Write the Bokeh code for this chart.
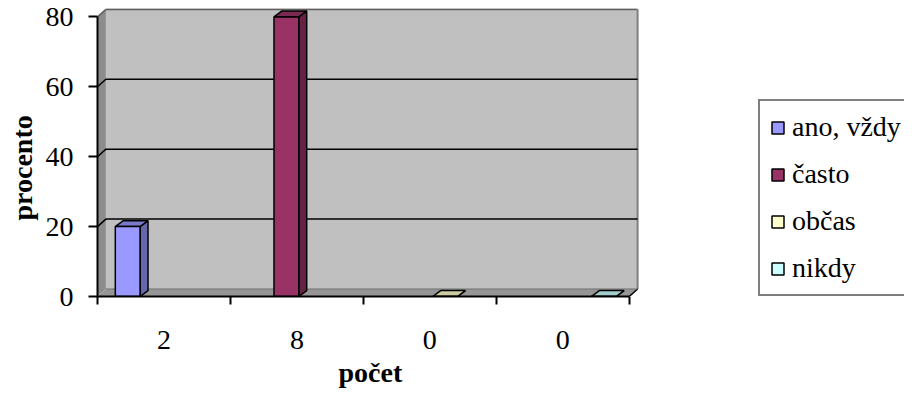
from bokeh.plotting import figure
from bokeh.models import (Range1d, FixedTicker, Legend, LegendItem, Title)
from bokeh.embed import file_html
from bokeh.resources import INLINE

# ---- data ----
categories = ["2", "8", "0", "0"]
series_names = ["ano, vždy", "často", "občas", "nikdy"]
ano_vzdy = [20, None, None, None]
casto = [None, 80, None, None]
obcas = [None, None, 0, None]
nikdy = [None, None, None, 0]
y_ticks = [0, 20, 40, 60, 80]
x_title = "počet"
y_title = "procento"
series_values = [ano_vzdy, casto, obcas, nikdy]

front_colors = ["#9999FF", "#993366", "#FFFFCC", "#CCFFFF"]
top_colors = ["#7A7ACC", "#7A2952", "#CCCCA3", "#A3CCCC"]
side_colors = ["#6666AA", "#662244", "#AAAA88", "#88AAAA"]

FONT = "'Liberation Serif', 'Times New Roman', serif"
FS = "28px"
ymax = 80
n = len(categories)
DX, DY = 0.063, 2.15      # depth offset of walls
BDX, BDY = 0.06, 1.7      # depth offset of bars
slot_left, slot_pitch, bar_w = 0.134, 0.1937, 0.186

p = figure(width=904, height=400, output_backend="svg", toolbar_location=None,
           x_range=Range1d(0, 815 / 134.25), y_range=Range1d(0, 82.4),
           min_border_left=89, min_border_right=0, min_border_top=8,
           min_border_bottom=104)
p.xgrid.visible = False
p.ygrid.visible = False
p.outline_line_color = None
p.background_fill_color = "white"

# walls
p.patch([DX, n + DX, n + DX, DX], [DY, DY, ymax + DY, ymax + DY],
        fill_color="#C0C0C0", line_color=None)
p.patch([0, DX, DX, 0], [0, DY, ymax + DY, ymax], fill_color="#8C8C8C", line_color=None)
p.patch([0, n, n + DX, DX], [0, 0, DY, DY], fill_color="#969696", line_color=None)
# wall edges
p.line([DX, n + DX], [ymax + DY, ymax + DY], line_color="#606060", line_width=2)
p.line([n + DX, n + DX], [DY, ymax + DY], line_color="#808080", line_width=2)
p.line([n, n + DX], [0, DY], line_color="black", line_width=1.5)
p.line([DX, n + DX], [DY, DY], line_color="#707070", line_width=1)
# gridlines
for v in y_ticks[1:-1]:
    p.line([0, DX, n + DX], [v, v + DY, v + DY], line_color="black", line_width=1.5)
p.line([0, DX], [ymax, ymax + DY], line_color="#606060", line_width=1.5)

# bars
items = []
for si, vals in enumerate(series_values):
    xs0, xs1, tops = [], [], []
    for ci, v in enumerate(vals):
        if v is None:
            continue
        x0 = ci + slot_left + slot_pitch * si
        xs0.append(x0)
        xs1.append(x0 + bar_w)
        tops.append(v)
    side_xs = [[x1, x1 + BDX, x1 + BDX, x1] for x1 in xs1]
    side_ys = [[0, BDY, t + BDY, t] for t in tops]
    top_xs = [[x0, x1, x1 + BDX, x0 + BDX] for x0, x1 in zip(xs0, xs1)]
    top_ys = [[t, t, t + BDY, t + BDY] for t in tops]
    p.patches(side_xs, side_ys, fill_color=side_colors[si], line_color="black", line_width=1.5)
    p.patches(top_xs, top_ys, fill_color=top_colors[si], line_color="black", line_width=1.5)
    r = p.quad(left=xs0, right=xs1, bottom=[0] * len(tops), top=tops,
               fill_color=front_colors[si], line_color="black", line_width=1.5)
    items.append(LegendItem(label=series_names[si], renderers=[r]))

# axes
xa = p.xaxis[0]
xa.bounds = (0, n)
xa.ticker = FixedTicker(ticks=[i + 0.5 for i in range(n)], minor_ticks=list(range(n + 1)))
xa.major_label_overrides = {i + 0.5: c for i, c in enumerate(categories)}
xa.major_tick_out = 0
xa.major_tick_in = 0
xa.minor_tick_out = 8
xa.minor_tick_in = 0
xa.minor_tick_line_width = 2
xa.minor_tick_line_color = "black"
xa.axis_line_width = 2
xa.axis_line_color = "black"
xa.major_label_standoff = 26
xa.major_label_text_font = FONT
xa.major_label_text_font_size = FS
xa.major_label_text_color = "black"

ya = p.yaxis[0]
ya.bounds = (0, ymax)
ya.ticker = FixedTicker(ticks=y_ticks)
ya.minor_tick_out = 0
ya.minor_tick_in = 0
ya.major_tick_out = 9
ya.major_tick_in = 0
ya.major_tick_line_width = 2
ya.major_tick_line_color = "black"
ya.axis_line_width = 2
ya.axis_line_color = "black"
ya.major_label_standoff = 15
ya.major_label_text_font = FONT
ya.major_label_text_font_size = FS
ya.major_label_text_color = "black"

# axis titles, placed like the original
xt = Title(text=x_title, align="left", offset=241, standoff=6,
           text_font=FONT, text_font_size=FS, text_font_style="bold",
           text_color="black")
p.add_layout(xt, "below")
yt = Title(text=y_title, align="left", offset=76, standoff=9,
           text_font=FONT, text_font_size=FS, text_font_style="bold",
           text_color="black")
p.add_layout(yt, "left")

legend = Legend(items=items, location=(661, 0), orientation="vertical",
                border_line_color="black", border_line_width=2,
                background_fill_color="white", background_fill_alpha=1,
                label_text_font=FONT, label_text_font_size=FS,
                label_text_color="black", glyph_width=15, glyph_height=15,
                label_standoff=7, label_height=32, spacing=15, padding=10,
                margin=0)
p.add_layout(legend, "center")

open("out.html", "w").write(file_html(p, INLINE))
